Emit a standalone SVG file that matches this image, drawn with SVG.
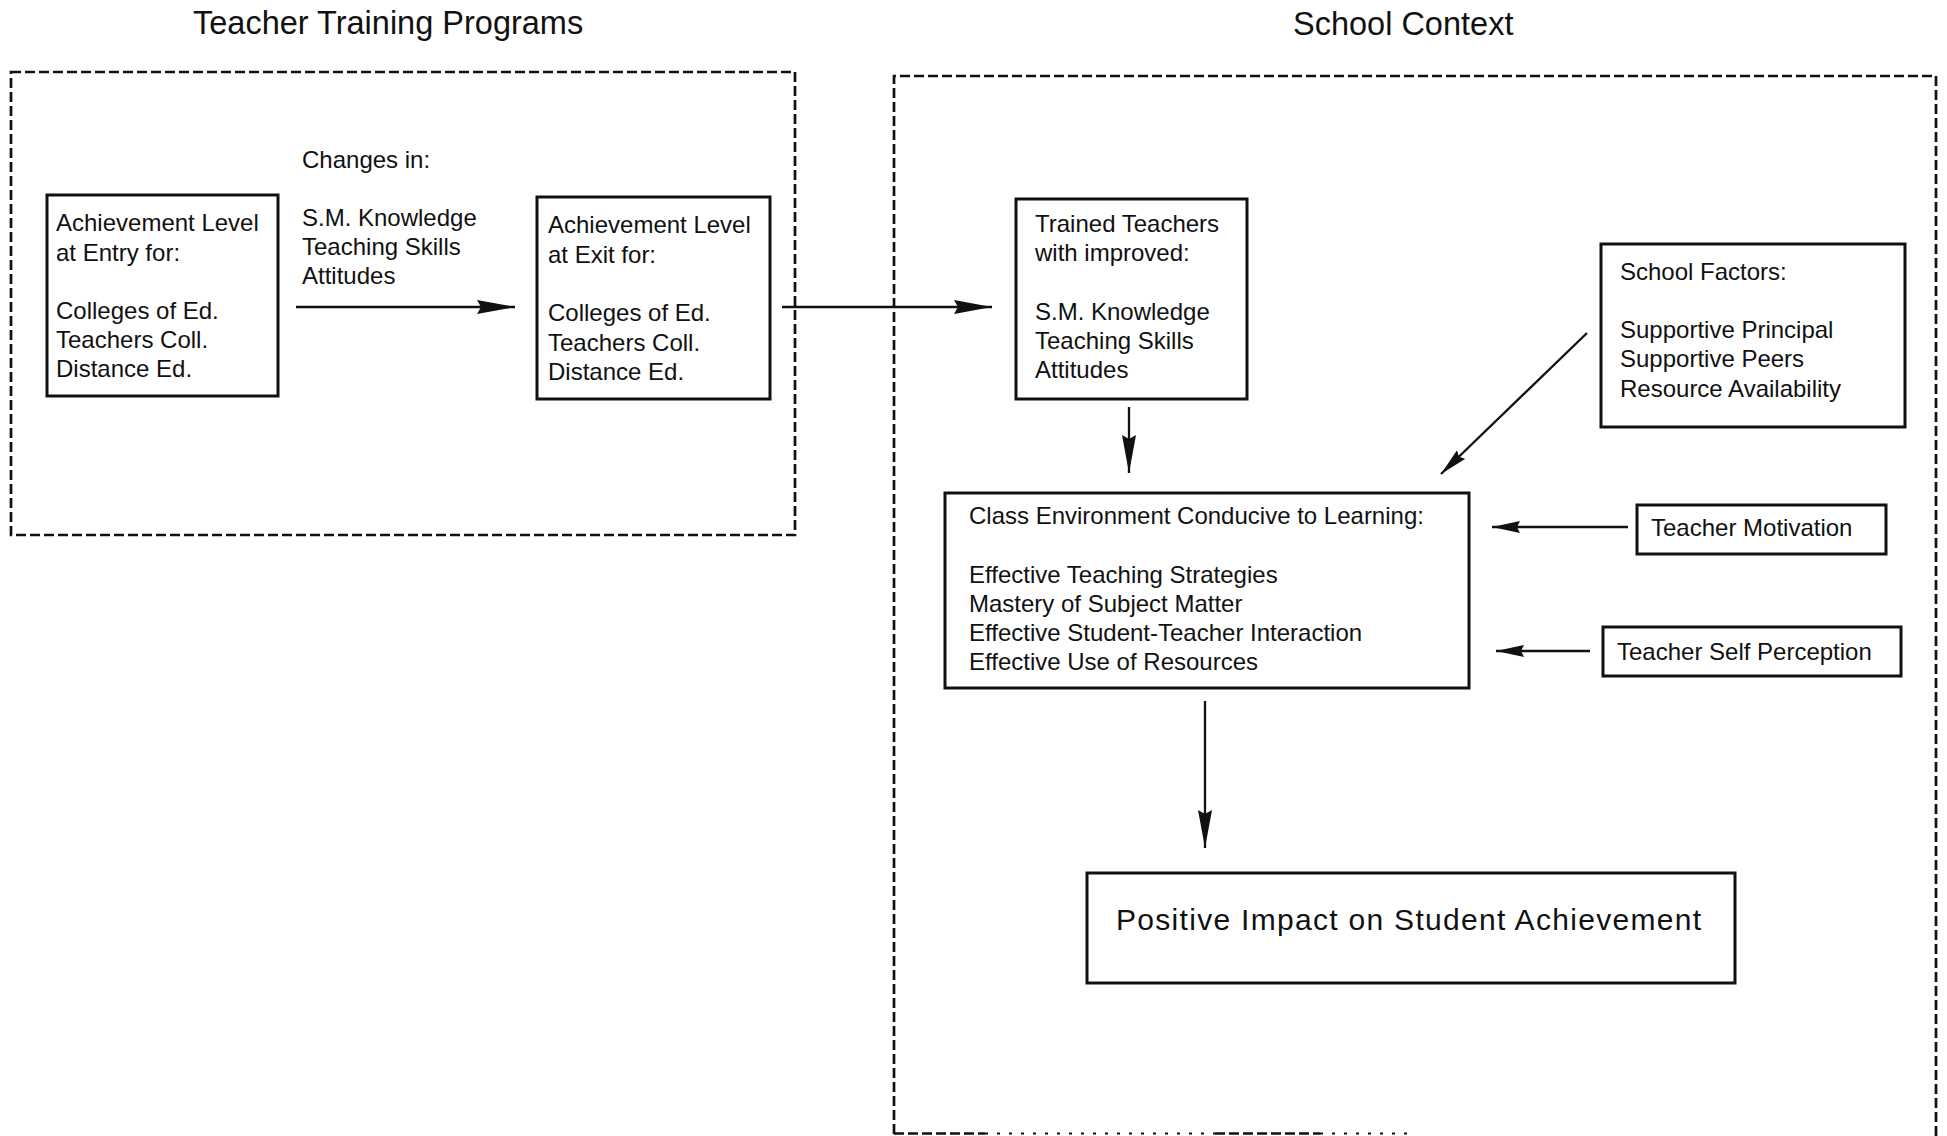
<svg xmlns="http://www.w3.org/2000/svg" width="1947" height="1136" viewBox="0 0 1947 1136">
<style>
  text { font-family: "Liberation Sans", Arial, Helvetica, sans-serif; fill: #111; }
  .t { font-size: 24px; }
  .title { font-size: 32.5px; }
  .big { font-size: 30px; }
  .box { fill: #fff; stroke: #111; stroke-width: 3; }
  .dash { fill: none; stroke: #111; stroke-width: 2.7; stroke-dasharray: 10 4; }
  .dot { fill: none; stroke: #111; stroke-width: 2; stroke-dasharray: 3 9; }
  .arr { fill: none; stroke: #111; stroke-width: 2.3; }
</style>
<defs>
  <marker id="ah" viewBox="0 0 38 14" markerUnits="userSpaceOnUse" markerWidth="38" markerHeight="14" refX="38" refY="7" orient="auto">
    <path d="M0,0 L38,7 L0,14 L4,7 z" fill="#111"/>
  </marker>
  <marker id="ahs" viewBox="0 0 28 12" markerUnits="userSpaceOnUse" markerWidth="28" markerHeight="12" refX="28" refY="6" orient="auto">
    <path d="M0,0 L28,6 L0,12 L3,6 z" fill="#111"/>
  </marker>
</defs>
<rect width="1947" height="1136" fill="#fff"/>

<g id="titles">
  <text class="title" x="193" y="34">Teacher Training Programs</text>
  <text class="title" x="1293" y="35">School Context</text>
</g>

<g id="frames">
  <rect class="dash" x="11" y="72" width="784" height="463"/>
  <path class="dash" d="M894,1134 V76 H1936 V1136"/>
  <path class="dash" d="M894,1133.5 H985"/>
  <path class="dot" d="M985,1133.5 H1215"/>
  <path class="dash" d="M1215,1133.5 H1320"/>
  <path class="dot" d="M1320,1133.5 H1412"/>
</g>

<g id="entry">
  <rect class="box" x="47" y="195" width="231" height="201"/>
  <text class="t" x="56" y="231">Achievement Level</text>
  <text class="t" x="56" y="261">at Entry for:</text>
  <text class="t" x="56" y="319">Colleges of Ed.</text>
  <text class="t" x="56" y="348">Teachers Coll.</text>
  <text class="t" x="56" y="377">Distance Ed.</text>
</g>

<g id="changes">
  <text class="t" x="302" y="168">Changes in:</text>
  <text class="t" x="302" y="226">S.M. Knowledge</text>
  <text class="t" x="302" y="255">Teaching Skills</text>
  <text class="t" x="302" y="284">Attitudes</text>
</g>

<g id="exit">
  <rect class="box" x="537" y="197" width="233" height="202"/>
  <text class="t" x="548" y="233">Achievement Level</text>
  <text class="t" x="548" y="263">at Exit for:</text>
  <text class="t" x="548" y="321">Colleges of Ed.</text>
  <text class="t" x="548" y="351">Teachers Coll.</text>
  <text class="t" x="548" y="380">Distance Ed.</text>
</g>

<g id="trained">
  <rect class="box" x="1016" y="199" width="231" height="200"/>
  <text class="t" x="1035" y="232">Trained Teachers</text>
  <text class="t" x="1035" y="261">with improved:</text>
  <text class="t" x="1035" y="320">S.M. Knowledge</text>
  <text class="t" x="1035" y="349">Teaching Skills</text>
  <text class="t" x="1035" y="378">Attitudes</text>
</g>

<g id="school-factors">
  <rect class="box" x="1601" y="244" width="304" height="183"/>
  <text class="t" x="1620" y="280">School Factors:</text>
  <text class="t" x="1620" y="338">Supportive Principal</text>
  <text class="t" x="1620" y="367">Supportive Peers</text>
  <text class="t" x="1620" y="397">Resource Availability</text>
</g>

<g id="class-env">
  <rect class="box" x="945" y="493" width="524" height="195"/>
  <text class="t" x="969" y="524">Class Environment Conducive to Learning:</text>
  <text class="t" x="969" y="583">Effective Teaching Strategies</text>
  <text class="t" x="969" y="612">Mastery of Subject Matter</text>
  <text class="t" x="969" y="641">Effective Student-Teacher Interaction</text>
  <text class="t" x="969" y="670">Effective Use of Resources</text>
</g>

<g id="motivation">
  <rect class="box" x="1637" y="505" width="249" height="49"/>
  <text class="t" x="1651" y="536">Teacher Motivation</text>
</g>

<g id="self-perception">
  <rect class="box" x="1603" y="627" width="298" height="49"/>
  <text class="t" x="1617" y="660">Teacher Self Perception</text>
</g>

<g id="impact">
  <rect class="box" x="1087" y="873" width="648" height="110"/>
  <text class="big" x="1116" y="930" textLength="585" lengthAdjust="spacing">Positive Impact on Student Achievement</text>
</g>

<g id="connectors">
  <line class="arr" x1="296" y1="307" x2="515" y2="307" marker-end="url(#ah)"/>
  <line class="arr" x1="782" y1="307" x2="992" y2="307" marker-end="url(#ah)"/>
  <line class="arr" x1="1129" y1="407" x2="1129" y2="473" marker-end="url(#ah)"/>
  <line class="arr" x1="1587" y1="333" x2="1441" y2="474" marker-end="url(#ahs)"/>
  <line class="arr" x1="1628" y1="527" x2="1492" y2="527" marker-end="url(#ahs)"/>
  <line class="arr" x1="1590" y1="651" x2="1496" y2="651" marker-end="url(#ahs)"/>
  <line class="arr" x1="1205" y1="701" x2="1205" y2="848" marker-end="url(#ah)"/>
</g>
</svg>
